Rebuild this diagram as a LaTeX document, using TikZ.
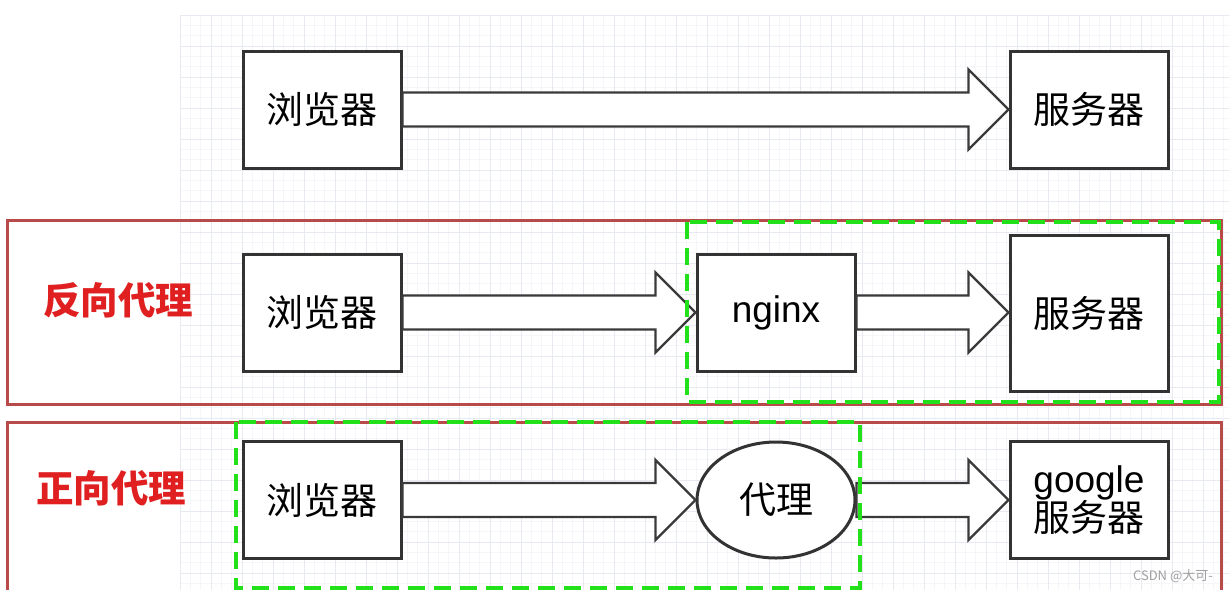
\documentclass[tikz,border=0pt]{standalone}
\usepackage{fontspec}
\setmainfont{Noto Sans CJK SC}
\newfontfamily\latinsans{Liberation Sans}
\usetikzlibrary{calc,shapes.geometric}
\definecolor{boxline}{HTML}{333333}
\definecolor{arrline}{HTML}{3A3A3A}
\definecolor{redframe}{HTML}{B84A4A}
\definecolor{redtext}{HTML}{E02020}
\definecolor{greendash}{HTML}{22E01A}
\definecolor{gridcol}{HTML}{E8EAF1}
\definecolor{gridminor}{HTML}{F5F6F9}
\tikzset{
  bx/.style={draw=boxline, line width=3pt, fill=white, rectangle, minimum width=158pt, minimum height=117pt, font=\fontsize{37}{42}\selectfont, inner sep=0pt},
  barrowstyle/.style={draw=arrline, line width=2.3pt, fill=white, line join=miter},
  redbox/.style={draw=redframe, line width=3pt},
  greenbox/.style={draw=greendash, line width=4.5pt, dash pattern=on 17pt off 9pt},
  lbl/.style={text=redtext, font=\fontsize{37.5}{42}\selectfont\bfseries},
  gmaj/.style={draw=gridcol, line width=1pt},
  gmin/.style={draw=gridminor, line width=0.8pt}
}
\newcommand\blockarr[2]{%
  \draw[barrowstyle] let \p1=(#1.east), \p2=(#2.west) in
    (\x1,\y1+17pt) -- (\x2-40pt,\y1+17pt) -- (\x2-40pt,\y1+40pt) -- (\x2,\y1)
    -- (\x2-40pt,\y1-40pt) -- (\x2-40pt,\y1-17pt) -- (\x1,\y1-17pt) -- cycle;}
\begin{document}
\begin{tikzpicture}[x=1pt,y=-1pt]
\useasboundingbox (0,0) rectangle (1229,590);
\fill[white] (0,0) rectangle (1229,590);
% grid
\foreach \x in {190.33,200.67,221.33,231.67,252.33,262.67,283.33,293.67,314.33,324.67,345.33,355.67,376.33,386.67,407.33,417.67,438.33,448.67,469.33,479.67,500.33,510.67,531.33,541.67,562.33,572.67,593.33,603.67,624.33,634.67,655.33,665.67,686.33,696.67,717.33,727.67,748.33,758.67,779.33,789.67,810.33,820.67,841.33,851.67,872.33,882.67,903.33,913.67,934.33,944.67,965.33,975.67,996.33,1006.67,1027.33,1037.67,1058.33,1068.67,1089.33,1099.67,1120.33,1130.67,1151.33,1161.67,1182.33,1192.67,1213.33,1223.67}
  \draw[gmin] (\x,15) -- (\x,590);
\foreach \y in {25.33,35.67,56.33,66.67,87.33,97.67,118.33,128.67,149.33,159.67,180.33,190.67,211.33,221.67,242.33,252.67,273.33,283.67,304.33,314.67,335.33,345.67,366.33,376.67,397.33,407.67,428.33,438.67,459.33,469.67,490.33,500.67,521.33,531.67,552.33,562.67,583.33}
  \draw[gmin] (180,\y) -- (1229,\y);
\foreach \x in {180,211,...,1229}
  \draw[gmaj] (\x,15) -- (\x,590);
\foreach \y in {15,46,...,590}
  \draw[gmaj] (180,\y) -- (1229,\y);

% frames
\draw[redbox] (7,220) rectangle (1221,404);
\draw[redbox] (7,590) -- (7,422) -- (1221,422) -- (1221,590);

% row 1
\node[bx] (b1) at (322,109.5) {浏览器};
\node[bx] (s1) at (1089,109.5) {服务器};
\blockarr{b1}{s1}

% row 2
\node[lbl] (l2) at (118,300) {反向代理};
\node[bx] (b2) at (322,312.5) {浏览器};
\node[bx, minimum width=158pt] (n2) at (776,312.5) {\latinsans nginx};
\node[bx, minimum height=156pt] (s2) at (1089,313) {服务器};
\blockarr{b2}{n2}
\blockarr{n2}{s2}
\draw[greenbox] (687,222) rectangle (1219,402);

% row 3
\node[lbl] (l3) at (111,488) {正向代理};
\node[bx] (b3) at (322,500) {浏览器};
\node[draw=boxline, line width=3pt, fill=white, ellipse, minimum width=158pt, minimum height=116pt, inner sep=0pt, font=\fontsize{37}{42}\selectfont] (p3) at (776,500) {代理};
\node[bx, align=center, font=\fontsize{37}{39}\selectfont] (g3) at (1089,500) {{\latinsans google}\\服务器};
\blockarr{b3}{p3}
\blockarr{p3}{g3}
\draw[greenbox] (236,422) rectangle (860,588);

% watermark
\node[text=gray!75, font=\fontsize{13}{15}\selectfont, anchor=east, inner sep=0pt] (wm) at (1213,576) {CSDN @大可-};
\end{tikzpicture}
\end{document}
